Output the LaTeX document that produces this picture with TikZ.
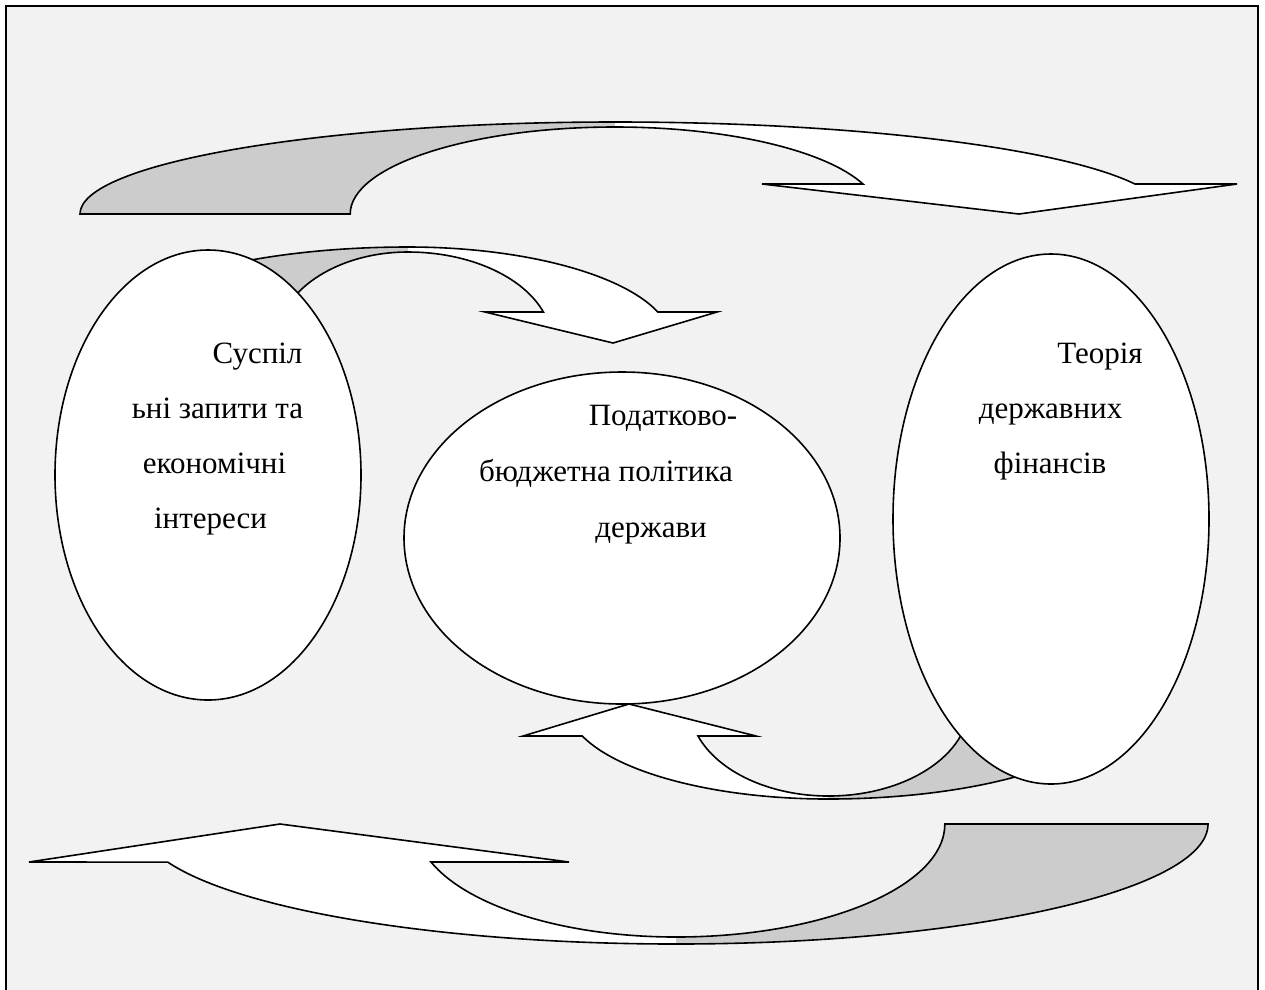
\documentclass[tikz,border=0pt]{standalone}
\usepackage{fontspec}
\setmainfont{Liberation Serif}
\usetikzlibrary{shapes.geometric}
\definecolor{bgc}{HTML}{F2F2F2}
\definecolor{shd}{HTML}{CCCCCC}
\begin{document}
\begin{tikzpicture}[x=1pt,y=-1pt,
  shadepart/.style={fill=shd},
  whitepart/.style={fill=white},
  outline/.style={draw=black,line width=1.6pt,line join=miter},
  oval/.style={ellipse,draw=black,fill=white,line width=1.6pt,inner sep=0pt},
  txt/.style={anchor=base,inner sep=0pt,font=\fontsize{31}{36}\selectfont}]
\useasboundingbox (0,0) rectangle (1265,989);
\fill[white] (0,0) rectangle (1265,989);
\draw[line width=2.6pt,fill=bgc] (6,6) rectangle (1258,1020);

% ---- top big arrow (left -> right, pointing down)
\fill[shadepart] (80,214) arc[start angle=180,end angle=90,x radius=535pt,y radius=92pt]
  -- (615,127) arc[start angle=90,end angle=180,x radius=265pt,y radius=87pt] -- cycle;
\fill[whitepart] (615,122) arc[start angle=90,end angle=19.03,x radius=550pt,y radius=92pt]
  -- (1237,184) -- (1019,214) -- (762,184) -- (863,184)
  arc[start angle=20.17,end angle=90,x radius=264pt,y radius=87pt] -- cycle;
\draw[outline] (80,214) arc[start angle=180,end angle=90,x radius=535pt,y radius=92pt]
  arc[start angle=90,end angle=19.03,x radius=550pt,y radius=92pt]
  -- (1237,184) -- (1019,214) -- (762,184) -- (863,184)
  arc[start angle=20.17,end angle=90,x radius=264pt,y radius=87pt]
  arc[start angle=90,end angle=180,x radius=265pt,y radius=87pt] -- cycle;

% ---- bottom big arrow (right -> left, pointing up)
\fill[whitepart] (29,862) -- (280,824) -- (569,862) -- (431,862)
  arc[start angle=199.65,end angle=270,x radius=260pt,y radius=113pt]
  -- (676,944) arc[start angle=270,end angle=198.5,x radius=536pt,y radius=120pt] -- cycle;
\fill[shadepart] (676,937) arc[start angle=270,end angle=360,x radius=269pt,y radius=113pt]
  -- (1208,824) arc[start angle=0,end angle=-90,x radius=532pt,y radius=120pt] -- cycle;
\draw[outline] (29,862) -- (280,824) -- (569,862) -- (431,862)
  arc[start angle=199.65,end angle=270,x radius=260pt,y radius=113pt]
  arc[start angle=270,end angle=360,x radius=269pt,y radius=113pt]
  -- (1208,824) arc[start angle=0,end angle=-90,x radius=532pt,y radius=120pt]
  arc[start angle=270,end angle=198.5,x radius=536pt,y radius=120pt] -- cycle;

% ---- small upper arrow (from left oval to centre)
\fill[shadepart] (96,343) arc[start angle=180,end angle=90,x radius=312pt,y radius=96pt]
  -- (408,252) arc[start angle=90,end angle=180,x radius=132pt,y radius=91pt] -- cycle;
\fill[whitepart] (408,247) arc[start angle=90,end angle=18.84,x radius=264pt,y radius=96pt]
  -- (717,312) -- (613,343) -- (485,312) -- (543.4,312)
  arc[start angle=19.92,end angle=90,x radius=144pt,y radius=91pt] -- cycle;
\draw[outline] (96,343) arc[start angle=180,end angle=90,x radius=312pt,y radius=96pt]
  arc[start angle=90,end angle=18.84,x radius=264pt,y radius=96pt]
  -- (717,312) -- (613,343) -- (485,312) -- (543.4,312)
  arc[start angle=19.92,end angle=90,x radius=144pt,y radius=91pt]
  arc[start angle=90,end angle=180,x radius=132pt,y radius=91pt] -- cycle;

% ---- small lower arrow (from right oval to centre)
\fill[whitepart] (523,736) -- (629,704) -- (756,736) -- (698,736)
  arc[start angle=200.35,end angle=270,x radius=139pt,y radius=92pt]
  -- (828.3,799) arc[start angle=270,end angle=199.68,x radius=261pt,y radius=95pt] -- cycle;
\fill[shadepart] (828.3,796) arc[start angle=270,end angle=360,x radius=141pt,y radius=92pt]
  -- (1120,704) arc[start angle=0,end angle=-90,x radius=292pt,y radius=95pt] -- cycle;
\draw[outline] (523,736) -- (629,704) -- (756,736) -- (698,736)
  arc[start angle=200.35,end angle=270,x radius=139pt,y radius=92pt]
  arc[start angle=270,end angle=360,x radius=141pt,y radius=92pt]
  -- (1120,704) arc[start angle=0,end angle=-90,x radius=292pt,y radius=95pt]
  arc[start angle=270,end angle=199.68,x radius=261pt,y radius=95pt] -- cycle;

% ---- ovals
\node[oval,minimum width=306pt,minimum height=450pt] (left) at (208,475) {};
\node[oval,minimum width=436pt,minimum height=332pt] (centre) at (622,538) {};
\node[oval,minimum width=316pt,minimum height=530pt] (right) at (1051,519) {};

% ---- texts
\node[txt] (l1) at (257.5,363) {Суспіл};
\node[txt] (l2) at (217.5,418) {ьні запити та};
\node[txt] (l3) at (214.5,473) {економічні};
\node[txt] (l4) at (210.5,528) {інтереси};

\node[txt] (c1) at (663,425) {Податково-};
\node[txt] (c2) at (606,481) {бюджетна політика};
\node[txt] (c3) at (651,537) {держави};

\node[txt] (r1) at (1100,363) {Теорія};
\node[txt] (r2) at (1050.5,418) {державних};
\node[txt] (r3) at (1050,473) {фінансів};
\end{tikzpicture}
\end{document}
